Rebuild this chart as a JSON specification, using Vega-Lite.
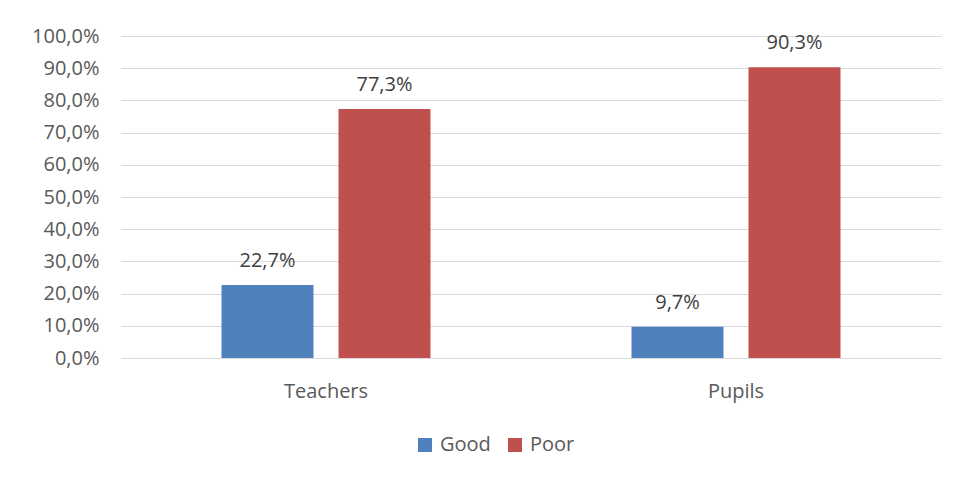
{
  "$schema": "https://vega.github.io/schema/vega-lite/v6.json",
  "width": 820,
  "height": 322,
  "autosize": {"type": "none"},
  "padding": {"left": 121, "top": 36, "right": 17, "bottom": 119},
  "background": "white",
  "config": {
    "locale": {"number": {"decimal": ",", "thousands": ".", "grouping": [3], "currency": ["", " €"]}},
    "view": {"stroke": null},
    "font": "Open Sans"
  },
  "data": {
    "values": [
      {"group": "Teachers", "rating": "Good", "share": 0.227},
      {"group": "Teachers", "rating": "Poor", "share": 0.773},
      {"group": "Pupils", "rating": "Good", "share": 0.097},
      {"group": "Pupils", "rating": "Poor", "share": 0.903}
    ]
  },
  "encoding": {
    "x": {
      "field": "group", "type": "nominal", "sort": ["Teachers", "Pupils"],
      "scale": {"paddingInner": 0, "paddingOuter": 0},
      "axis": {"title": null, "domain": false, "ticks": false, "labelAngle": 0, "labelFont": "Open Sans", "labelFontSize": 20, "labelColor": "#595959", "labelPadding": 23}
    },
    "xOffset": {
      "field": "rating", "type": "nominal",
      "scale": {"paddingInner": 0.2137, "paddingOuter": 0.859}
    },
    "y": {
      "field": "share", "type": "quantitative",
      "scale": {"domain": [0, 1], "nice": false},
      "axis": {"title": null, "format": ".1%", "values": [0, 0.1, 0.2, 0.3, 0.4, 0.5, 0.6, 0.7, 0.8, 0.9, 1], "domain": false, "ticks": false, "gridColor": "#d9d9d9", "gridWidth": 1, "labelFont": "Open Sans", "labelFontSize": 20, "labelColor": "#595959", "labelPadding": 22}
    }
  },
  "layer": [
    {
      "mark": {"type": "bar"},
      "encoding": {
        "color": {
          "field": "rating", "type": "nominal",
          "scale": {"domain": ["Good", "Poor"], "range": ["#4F81BD", "#C0504D"]},
          "legend": {"title": null, "orient": "none", "direction": "horizontal", "legendX": 294, "legendY": 399, "symbolType": "square", "symbolSize": 196, "symbolStrokeWidth": 0, "labelFont": "Open Sans", "labelFontSize": 20, "labelColor": "#595959", "labelOffset": 5, "columnPadding": 14}
        }
      }
    },
    {
      "mark": {"type": "text", "baseline": "alphabetic", "dy": -18, "font": "Open Sans", "fontSize": 20, "color": "#404040"},
      "encoding": {
        "text": {"field": "share", "type": "quantitative", "format": ".1%"}
      }
    }
  ]
}
